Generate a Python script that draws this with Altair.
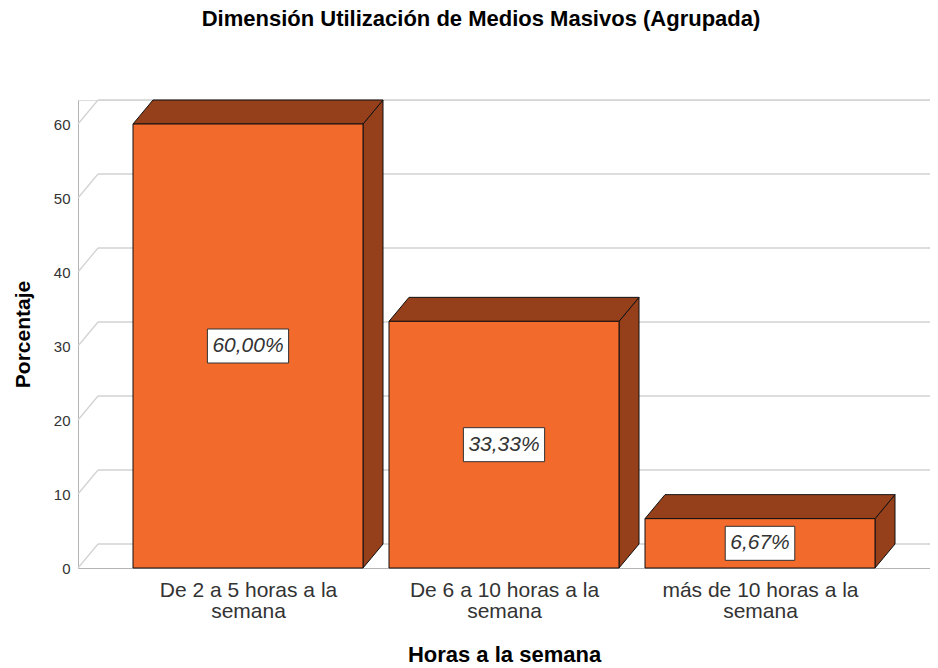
import json
import textwrap
import altair as alt
import pandas as pd

# ---------------- data ----------------
categories = [
    "De 2 a 5 horas a la semana",
    "De 6 a 10 horas a la semana",
    "más de 10 horas a la semana",
]
percentages = [60.00, 33.33, 6.67]
value_labels = ["60,00%", "33,33%", "6,67%"]
y_ticks = [0, 10, 20, 30, 40, 50, 60]

chart_title = "Dimensión Utilización de Medios Masivos (Agrupada)"
x_title = "Horas a la semana"
y_title = "Porcentaje"

# ---------------- style / geometry ----------------
FONT = "Liberation Sans"
PLOT_W, PLOT_H = 852, 468
STEP_PX = 256          # distance between bar centres
BAR_PX = 230           # front face width
LEFT_GAP_PX = 170      # axis -> first bar centre
DEPTH_X_PX, DEPTH_Y_PX = 20, 24
FRONT = "#f26a2c"
DARK = "#963f1b"
GRID = "#d2d2d2"
AXIS = "#b4b4b4"
LABEL_FS = 21

top_tick = max(y_ticks)
y_max = top_tick * PLOT_H / (PLOT_H - DEPTH_Y_PX)
dyu = y_max - top_tick
x_min = -LEFT_GAP_PX / STEP_PX
x_max = x_min + PLOT_W / STEP_PX
dxu = DEPTH_X_PX / STEP_PX
hw = BAR_PX / 2 / STEP_PX
px_per_y = PLOT_H / y_max

char_w = {",": 0.278, "%": 0.889}


def text_px(s):
    return sum(char_w.get(ch, 0.556) for ch in s) * LABEL_FS


rows = []
top_rows = []
side_rows = []
for i, (cat, v, lab) in enumerate(zip(categories, percentages, value_labels)):
    x0, x1 = i - hw, i + hw
    bw = (text_px(lab) + 10) / 2 / STEP_PX
    bh = 17 / px_per_y
    rows.append(dict(idx=i, cat=cat, value=v, label=lab, x0=x0, x1=x1, y0=0,
                     mid=v / 2, bx0=i - bw, bx1=i + bw, by0=v / 2 - bh, by1=v / 2 + bh))
    top_rows += [
        dict(idx=i, x=x0, y=v, y2=v),
        dict(idx=i, x=x0 + dxu, y=v, y2=v + dyu),
        dict(idx=i, x=x1, y=v, y2=v + dyu),
        dict(idx=i, x=x1 + dxu, y=v + dyu, y2=v + dyu),
    ]
    side_rows += [
        dict(idx=i, x=x1, y=0, y2=v),
        dict(idx=i, x=x1 + dxu, y=dyu, y2=v + dyu),
    ]

bars = pd.DataFrame(rows)
tops = pd.DataFrame(top_rows)
sides = pd.DataFrame(side_rows)
grid = pd.DataFrame([dict(t=t, xa=x_min, xb=x_min + dxu, xc=x_max, ya=t, yb=t + dyu)
                     for t in y_ticks])

xs = alt.Scale(domain=[x_min, x_max], nice=False, zero=False)
ys = alt.Scale(domain=[0, y_max], nice=False, zero=False)

wrapped = [textwrap.wrap(c, 20) for c in categories]
label_expr = json.dumps(wrapped, ensure_ascii=False) + "[round(datum.value)]"

x_axis = alt.Axis(values=list(range(len(categories))), labelExpr=label_expr,
                  title=x_title, ticks=False, tickSize=0, grid=False,
                  domainColor=AXIS, labelFont=FONT, labelFontSize=21,
                  labelColor="#333", labelPadding=11, labelLineHeight=21,
                  labelOverlap=False, labelFlush=False, labelLimit=400,
                  titleFont=FONT, titleFontSize=22, titleFontWeight="bold",
                  titleColor="#000", titlePadding=23)
y_axis = alt.Axis(values=y_ticks, format="d", title=y_title, ticks=False, tickSize=0,
                  grid=False, domainColor=AXIS, labelFont=FONT, labelFontSize=15,
                  labelColor="#333", labelPadding=8,
                  titleFont=FONT, titleFontSize=21, titleFontWeight="bold",
                  titleColor="#000", titlePadding=20)


def X(field):
    return alt.X(field, scale=xs, axis=x_axis, title=x_title)


def Y(field):
    return alt.Y(field, scale=ys, axis=y_axis, title=y_title)


diag = alt.Chart(grid).mark_rule(color=GRID, strokeWidth=1.3).encode(
    x=X("xa:Q"), x2="xb:Q", y=Y("ya:Q"), y2="yb:Q",
)
hlines = alt.Chart(grid).mark_rule(color=GRID, strokeWidth=1.3).encode(
    x=X("xb:Q"), x2="xc:Q", y=Y("yb:Q"),
)
side = alt.Chart(sides).mark_area(color=DARK, stroke="#111", strokeWidth=1,
                                   fillOpacity=1, interpolate="linear").encode(
    x=X("x:Q"), y=Y("y:Q"), y2="y2:Q", detail="idx:N",
)
top = alt.Chart(tops).mark_area(color=DARK, stroke="#111", strokeWidth=1,
                                 fillOpacity=1, interpolate="linear").encode(
    x=X("x:Q"), y=Y("y:Q"), y2="y2:Q", detail="idx:N",
)
front = alt.Chart(bars).mark_rect(color=FRONT, stroke="#111", strokeWidth=1).encode(
    x=X("x0:Q"), x2="x1:Q", y=Y("y0:Q"), y2="value:Q",
)
box = alt.Chart(bars).mark_rect(color="white", stroke="#333", strokeWidth=1).encode(
    x=X("bx0:Q"), x2="bx1:Q", y=Y("by0:Q"), y2="by1:Q",
)
text = alt.Chart(bars).mark_text(font=FONT, fontSize=LABEL_FS, fontStyle="italic",
                                 color="#333", baseline="middle", align="center").encode(
    x=X("idx:Q"), y=Y("mid:Q"), text="label:N",
)

chart = alt.layer(diag, hlines, side, top, front, box, text).properties(
    width=PLOT_W,
    height=PLOT_H,
    title=alt.TitleParams(chart_title, font=FONT, fontSize=22, fontWeight="bold",
                          color="#000", anchor="middle", offset=67, dx=-23),
    padding={"left": 70, "top": 92, "right": 0, "bottom": 100},
    autosize="none",
).configure_view(stroke=None).configure(background="white")

chart.save("out.html", embed_options={"renderer": "svg", "actions": False})
